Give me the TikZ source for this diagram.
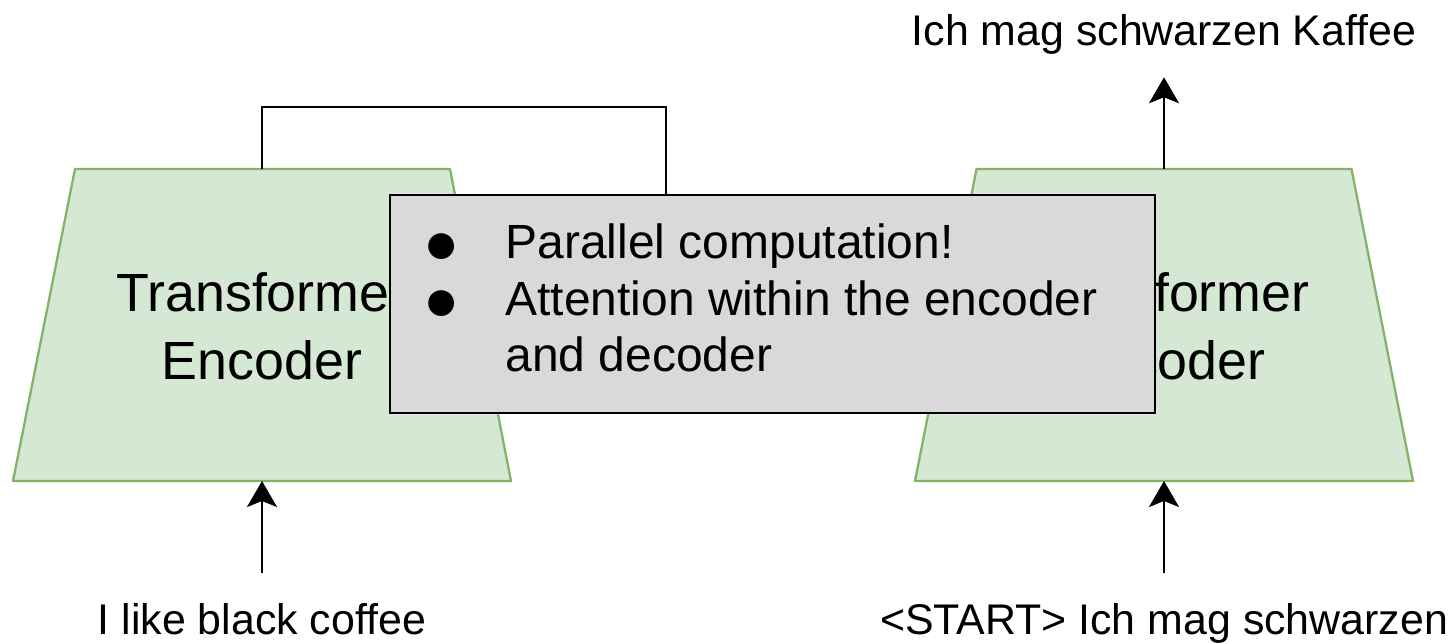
\documentclass[tikz,border=0pt]{standalone}
\usepackage{fontspec}
\setmainfont{Liberation Sans}
\usepackage{tikz}
\usetikzlibrary{arrows.meta,positioning}
\definecolor{blockfill}{HTML}{D5E8D4}
\definecolor{blockdraw}{HTML}{82B366}
\definecolor{notefill}{HTML}{D9D9D9}
\newcommand{\bigdot}{\raisebox{-2.8pt}{\scalebox{1.25}{●}}}

\begin{document}
\begin{tikzpicture}[
		>={Stealth[length=0.52cm,width=0.6cm,inset=0.12cm]},
		block/.style={fill=blockfill,draw=blockdraw,line width=1.3pt,line join=round},
		wire/.style={line width=1.1pt},
		lbl/.style={inner sep=0pt,anchor=base,font=\fontsize{24.4}{29}\selectfont},
		blocktext/.style={align=center,font=\fontsize{30.6}{38.5}\selectfont},
		notebox/.style={fill=notefill,draw=black,line width=1pt,minimum width=15.3cm,minimum height=4.36cm,inner sep=0pt},
		notetext/.style={inner sep=0pt,align=left,font=\fontsize{27.3}{32}\selectfont}]
		\useasboundingbox (0,0) rectangle (29.1,12.86);
		%
		\draw[block] (0.26,3.24) -- (1.5,9.48) -- (9,9.48) -- (10.22,3.24) -- cycle;
		\draw[block] (18.3,3.24) -- (19.53,9.48) -- (27.03,9.48) -- (28.26,3.24) -- cycle;
		\node[blocktext] (enc) at (5.24,6.34) {Transformer\\Encoder};
		\node[blocktext] (dec) at (23.28,6.34) {Transformer\\Decoder};
		%
		\coordinate (enc-in) at (5.24,3.24);
		\coordinate (enc-out) at (5.24,9.48);
		\coordinate (dec-in) at (23.28,3.24);
		\coordinate (dec-out) at (23.28,9.48);
		\coordinate (bend) at (13.32,10.72);
		%
		\node[lbl] (src) at (5.24,0.18) {I like black coffee};
		\node[lbl] (tgt) at (23.28,0.18) {<START> Ich mag schwarzen};
		\node[lbl] (out) at (23.28,11.96) {Ich mag schwarzen Kaffee};
		%
		\draw[wire,->] ([yshift=0.59cm]src.north) -- (enc-in);
		\draw[wire,->] ([yshift=0.59cm]tgt.north) -- (dec-in);
		\draw[wire,->] (dec-out) -- ([yshift=-0.46cm]out.south);
		%
		\node[notebox] (note) at (15.45,6.78) {};
		\draw[wire] (enc-out) |- (bend) -- (bend |- note.north);
		\node[notetext,anchor=west] (points) at ([xshift=0.68cm,yshift=0.12cm]note.west)
			{\makebox[1.64cm][l]{\bigdot}Parallel computation!\\
			\makebox[1.64cm][l]{\bigdot}Attention within the encoder\\
			\hspace*{1.64cm}and decoder};
	\end{tikzpicture}
\end{document}
